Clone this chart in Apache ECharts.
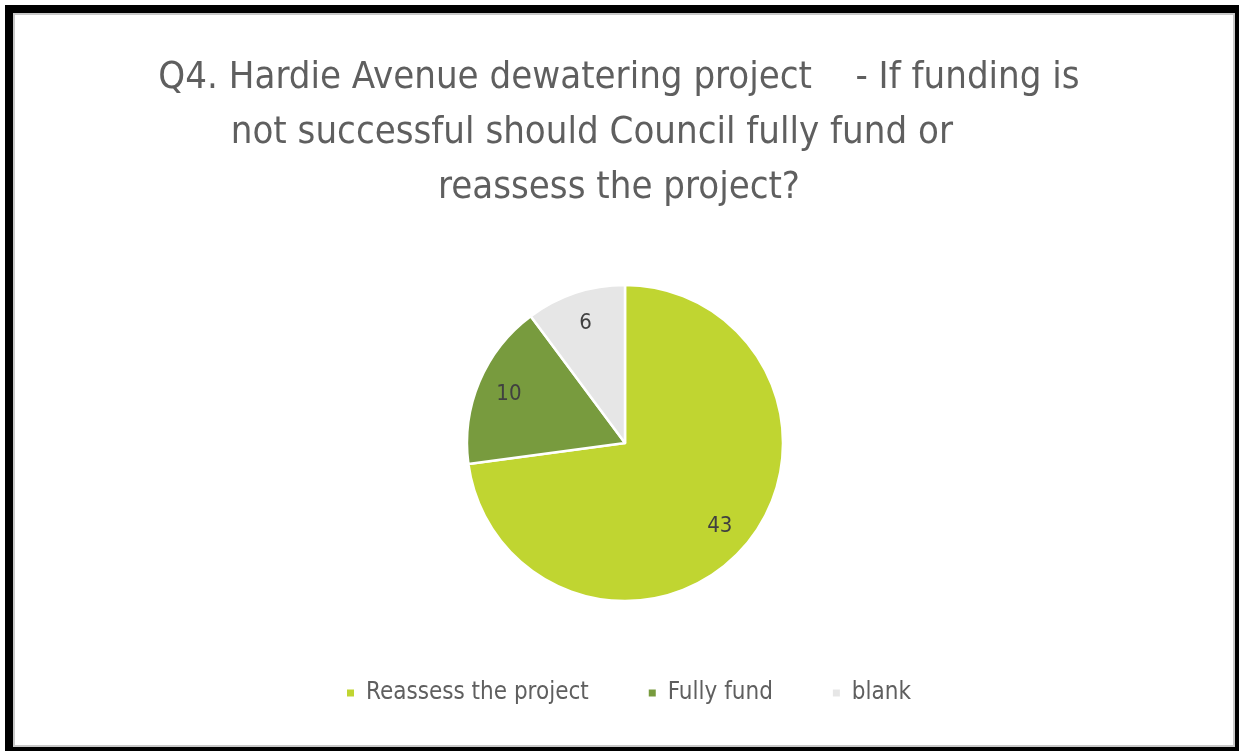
<!DOCTYPE html>
<html>
<head>
<meta charset="utf-8">
<script src="https://cdn.jsdelivr.net/npm/echarts@6/dist/echarts.min.js"></script>
<style>
  html, body { margin: 0; padding: 0; background: #fff; }
  #frame { position: absolute; left: 5px; top: 5px; width: 1234px; height: 746px; background: #000; }
  #panel { position: absolute; left: 13px; top: 13px; width: 1222px; height: 734px; background: #fff;
           border: 2px solid #c8c8c8; box-sizing: border-box; }
  #chart { position: absolute; left: 0; top: 0; width: 1239px; height: 751px; }
</style>
</head>
<body>
<div id="frame"></div>
<div id="panel"></div>
<div id="chart"></div>
<script>
// Survey responses for question 4
const categories = ['Reassess the project', 'Fully fund', 'blank'];
const counts = [43, 10, 6];
const colors = ['#c0d531', '#789b3e', '#e6e6e6'];
const titleLines = [
  'Q4. Hardie Avenue dewatering project    - If funding is',
  'not successful should Council fully fund or     ',
  'reassess the project?'
];

const FONT = "'Liberation Sans Narrow', 'Arial Narrow', 'DejaVu Sans Condensed', sans-serif";
const slices = categories.map((name, i) => ({ name, value: counts[i], itemStyle: { color: colors[i] } }));

const chart = echarts.init(document.getElementById('chart'), null, { renderer: 'canvas' });
chart.setOption({
  backgroundColor: 'transparent',
  animation: false,
  title: titleLines.map((t, i) => ({
    text: t,
    left: 614,
    top: 54 + i * 55,
    textAlign: 'center',
    textStyle: { fontFamily: FONT, fontSize: 38, fontWeight: 'normal', color: '#5f5f5f' }
  })),
  legend: {
    data: categories,
    left: 340,
    top: 676,
    icon: 'rect',
    itemWidth: 9,
    itemHeight: 9,
    itemGap: 58,
    textStyle: { fontFamily: FONT, fontSize: 24, color: '#5f5f5f', padding: [0, 0, 0, 6] }
  },
  series: [
    {
      type: 'pie',
      center: [625, 443],
      radius: [0, 158],
      startAngle: 90,
      clockwise: true,
      data: slices,
      label: { show: false },
      labelLine: { show: false },
      itemStyle: { borderColor: '#fff', borderWidth: 2.5 },
      emphasis: { disabled: true }
    },
    {
      // label ring: places value labels further out than the default inside position
      type: 'pie',
      center: [625, 443],
      radius: [90, 156],
      startAngle: 90,
      clockwise: true,
      silent: true,
      data: categories.map((name, i) => ({ name, value: counts[i] })),
      itemStyle: { color: 'rgba(0,0,0,0)' },
      label: {
        show: true,
        position: 'inside',
        formatter: '{c}',
        fontFamily: FONT,
        fontSize: 22,
        color: '#404040'
      },
      labelLine: { show: false },
      emphasis: { disabled: true }
    }
  ]
});
</script>
</body>
</html>
